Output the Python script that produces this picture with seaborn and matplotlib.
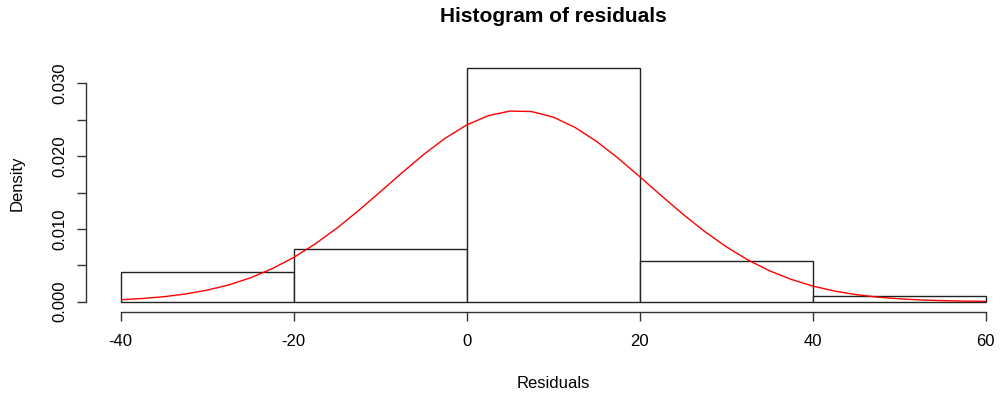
import numpy as np
import pandas as pd
import matplotlib
matplotlib.use("Agg")
import matplotlib.pyplot as plt
import seaborn as sns

# histogram bins (density scale)
bin_edges = [-40, -20, 0, 20, 40, 60]
bin_density = [0.00412, 0.00728, 0.03214, 0.00563, 0.00082]

# red density curve, every 2.5 units
curve_x = [-40, -37.5, -35, -32.5, -30, -27.5, -25, -22.5, -20, -17.5,
           -15, -12.5, -10, -7.5, -5, -2.5, 0, 2.5, 5, 7.5,
           10, 12.5, 15, 17.5, 20, 22.5, 25, 27.5, 30, 32.5,
           35, 37.5, 40, 42.5, 45, 47.5, 50, 52.5, 55, 57.5, 60]
curve_y = [0.00027, 0.00044, 0.00069, 0.00106, 0.00159, 0.00231, 0.00328, 0.00453, 0.00608, 0.00795,
           0.01011, 0.01252, 0.01509, 0.01769, 0.02020, 0.02245, 0.02428, 0.02556, 0.02619, 0.02612,
           0.02536, 0.02396, 0.02203, 0.01972, 0.01718, 0.01456, 0.01202, 0.00965, 0.00755, 0.00574,
           0.00425, 0.00307, 0.00215, 0.00147, 0.00098, 0.00063, 0.00040, 0.00024, 0.00015, 0.00008, 0.00005]

x_ticks = [-40, -20, 0, 20, 40, 60]
y_ticks = [0.000, 0.005, 0.010, 0.015, 0.020, 0.025, 0.030]
y_ticklabels = ["0.000", "", "0.010", "", "0.020", "", "0.030"]

sns.set_style("white")
plt.rcParams["font.family"] = ["Liberation Sans", "DejaVu Sans"]
plt.rcParams["text.color"] = "black"

mids = [(a + b) / 2 for a, b in zip(bin_edges[:-1], bin_edges[1:])]
bars = pd.DataFrame({"mid": mids, "density": bin_density})
curve = pd.DataFrame({"x": curve_x, "y": curve_y})

fig = plt.figure(figsize=(10, 3.96), dpi=100)
ax = fig.add_axes([0.1207, 0.2381, 0.865, 0.6177])

sns.histplot(data=bars, x="mid", weights="density", bins=bin_edges, stat="count",
             color="white", edgecolor="#222222", linewidth=1.0, alpha=1, ax=ax)
for p in ax.patches:
    p.set_clip_on(False)
sns.lineplot(data=curve, x="x", y="y", color="red", linewidth=1.0, ax=ax)

ax.set_xlim(-40, 60)
ax.set_ylim(0, 0.0336)
ax.set_xticks(x_ticks)
ax.set_xticklabels([str(v) for v in x_ticks])
ax.set_yticks(y_ticks)
ax.set_yticklabels(y_ticklabels)
ax.set_xlabel("")
ax.set_ylabel("")

for side in ["top", "right"]:
    ax.spines[side].set_visible(False)
ax.spines["left"].set_position(("outward", 25))
ax.spines["left"].set_bounds(0, 0.030)
ax.spines["bottom"].set_position(("outward", 7.4))
ax.spines["bottom"].set_bounds(-40, 60)
for side in ["left", "bottom"]:
    ax.spines[side].set_color("#333333")
    ax.spines[side].set_linewidth(1.0)

ax.tick_params(axis="both", which="both", direction="out", length=6.5, width=1.0,
               color="#333333", labelsize=12, labelcolor="black", pad=9,
               left=True, bottom=True)
ax.tick_params(axis="y", labelrotation=90, pad=7)
for lbl in ax.get_yticklabels():
    lbl.set_va("center")

fig.text(0.553, 1 - 17 / 396, "Histogram of residuals", ha="center", va="center",
         fontsize=15, fontweight="bold", color="black")
fig.text(0.553, 1 - 383 / 396, "Residuals", ha="center", va="center", fontsize=12,
         color="black")
fig.text(0.017, 1 - 183 / 396, "Density", ha="center", va="center", rotation=90,
         fontsize=12, color="black")

fig.savefig("out.png", dpi=100)
